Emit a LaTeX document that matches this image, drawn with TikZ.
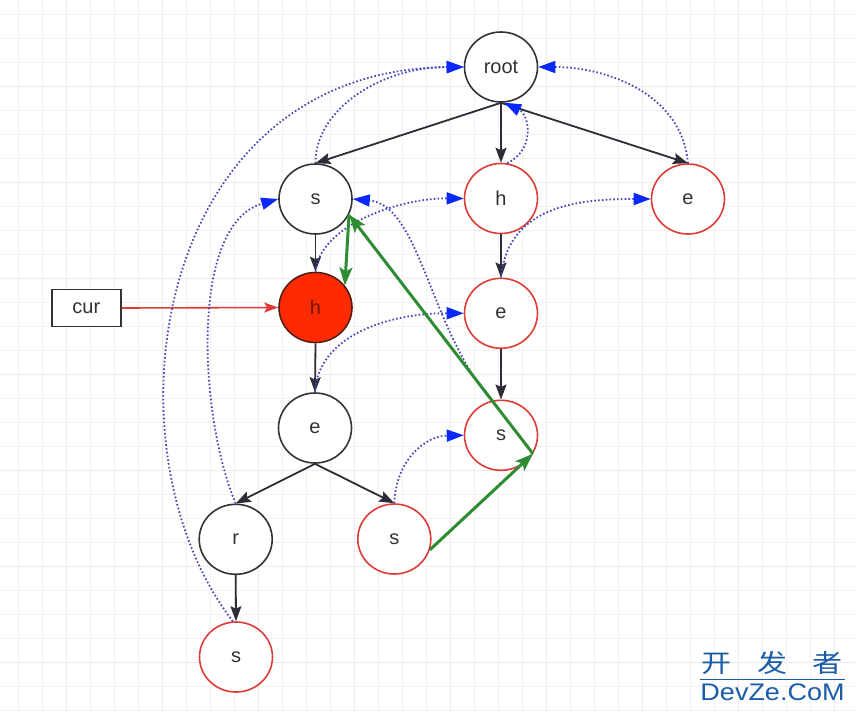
\documentclass[tikz,border=0pt]{standalone}
\usepackage{fontspec}
\setmainfont{Liberation Sans}
\newfontfamily\cjkfont{Noto Sans CJK SC}
\usetikzlibrary{arrows.meta,shapes.geometric}
\definecolor{gridminor}{RGB}{242,242,242}
\definecolor{gridmajor}{RGB}{236,236,236}
\definecolor{txt}{RGB}{51,51,51}
\definecolor{edgedark}{RGB}{45,45,55}
\definecolor{redline}{RGB}{222,60,55}
\definecolor{redfill}{RGB}{255,42,0}
\definecolor{darkoutline}{RGB}{85,30,20}
\definecolor{hottext}{RGB}{110,25,10}
\definecolor{dotblue}{RGB}{70,70,185}
\definecolor{tipblue}{RGB}{10,40,250}
\definecolor{greenarrow}{RGB}{46,140,50}
\definecolor{wmblue}{RGB}{26,92,168}
\begin{document}
\begin{tikzpicture}[x=1pt,y=-1pt,
  every node/.style={font=\fontsize{20}{24}\selectfont, text=txt},
  trienode/.style={ellipse, minimum width=73pt, minimum height=70pt, inner sep=0pt, line width=1.6pt},
  blacknode/.style={trienode, draw=txt, fill=white},
  rednode/.style={trienode, draw=redline, fill=white},
  hotnode/.style={trienode, draw=darkoutline, fill=redfill, text=hottext},
  curbox/.style={rectangle, draw=txt, fill=white, line width=1.5pt, minimum width=69pt, minimum height=37pt, inner sep=0pt},
  treeedge/.style={draw=edgedark, line width=1.8pt, -{Stealth[length=15pt,width=11pt,inset=2.5pt]}},
  curedge/.style={draw=redline, line width=1.6pt, -{Stealth[length=14pt,width=10pt,inset=3pt]}},
  greenedge/.style={draw=greenarrow, line width=3pt, -{Stealth[length=18pt,width=13pt,inset=4pt]}},
  link/.style={draw=dotblue, line width=1.8pt, dash pattern=on 1.6pt off 2.2pt, -{Triangle[length=17pt,width=12pt,color=tipblue]}},
  gridmin/.style={draw=gridminor, line width=1pt},
  gridmaj/.style={draw=gridmajor, line width=1.6pt}
]
\useasboundingbox (0,0) rectangle (856,713);
\fill[white] (0,0) rectangle (856,713);
% grid
\foreach \i in {0,...,35} {\draw[gridmin] (18.5+24*\i,0) -- (18.5+24*\i,713);}
\foreach \j in {0,...,29} {\draw[gridmin] (0,14.5+24*\j) -- (856,14.5+24*\j);}
\foreach \i in {0,...,8} {\draw[gridmaj] (66.5+96*\i,0) -- (66.5+96*\i,713);}
\foreach \j in {0,...,6} {\draw[gridmaj] (0,86.5+96*\j) -- (856,86.5+96*\j);}

% nodes
\node[blacknode] (root) at (501,67) {root};
\node[blacknode] (s1) at (315.5,199) {s};
\node[rednode] (h1) at (501,198.5) {h};
\node[rednode] (e1) at (688,199) {e};
\node[hotnode] (h2) at (315.5,307.5) {h};
\node[rednode] (e2) at (501,313.3) {e};
\node[blacknode] (e3) at (315,428) {e};
\node[rednode] (s2) at (501,435.3) {s};
\node[blacknode] (r) at (235.7,539.3) {r};
\node[rednode] (s3) at (394.3,539) {s};
\node[rednode] (s4) at (236,657) {s};
\node[curbox] (cur) at (86.3,308) {cur};

% tree edges
\draw[treeedge] (root.south) -- (s1.north);
\draw[treeedge] (root.south) -- (h1.north);
\draw[treeedge] (root.south) -- (e1.north);
\draw[treeedge] (s1.south) -- (h2.north);
\draw[treeedge] (h1.south) -- (e2.north);
\draw[treeedge] (h2.south) -- (e3.north);
\draw[treeedge] (e2.south) -- (s2.north);
\draw[treeedge] (e3.south) -- (r.north);
\draw[treeedge] (e3.south) -- (s3.north);
\draw[treeedge] (r.south) -- (s4.north);

% cur pointer
\draw[curedge] (cur.east) -- (h2.west);

% fail links
\draw[link] (s1.north) .. controls (315,110) and (380,67) .. (root.west);
\draw[link] (s4.95) .. controls (100,450) and (150,70) .. (root.west);
\draw[link] (r.north) .. controls (200,420) and (188,225) .. (s1.west);
\draw[link] (e1.north) .. controls (682,94) and (607,67) .. (root.east);
\draw[link] (h1.80) .. controls (535,150) and (530,115) .. (root.-85);
\draw[link] (h2.north) .. controls (320,225) and (400,198) .. (h1.west);
\draw[link] (e2.north) .. controls (508,205) and (580,199) .. (e1.west);
\draw[link] (e3.north) .. controls (318,335) and (390,313) .. (e2.west);
\draw[link] (s2.105) .. controls (430,330) and (420,205) .. (s1.east);
\draw[link] (s3.north) .. controls (396,460) and (425,436) .. (s2.west);

% green path
\draw[greenedge] (s1.-25) -- (h2.37);
\draw[greenedge] (s2.-30) -- (s1.-25);
\draw[greenedge] (s3.-17) -- (s2.-30);

% watermark
\node[font=\cjkfont\fontsize{25}{25}\selectfont, text=wmblue, anchor=base, inner sep=0pt] (wmcn) at (772,672) {\scalebox{1.2}[1]{开\hspace{21pt}发\hspace{21pt}者}};
\node[font=\fontsize{24}{24}\selectfont, text=wmblue, anchor=base, inner sep=0pt] (wmen) at (772.5,700) {\scalebox{1.125}[1]{DevZe.CoM}};
\draw[wmblue, line width=0.8pt] (wmen.north west |- 0,679.5) -- (wmen.north east |- 0,679.5);
\end{tikzpicture}
\end{document}
